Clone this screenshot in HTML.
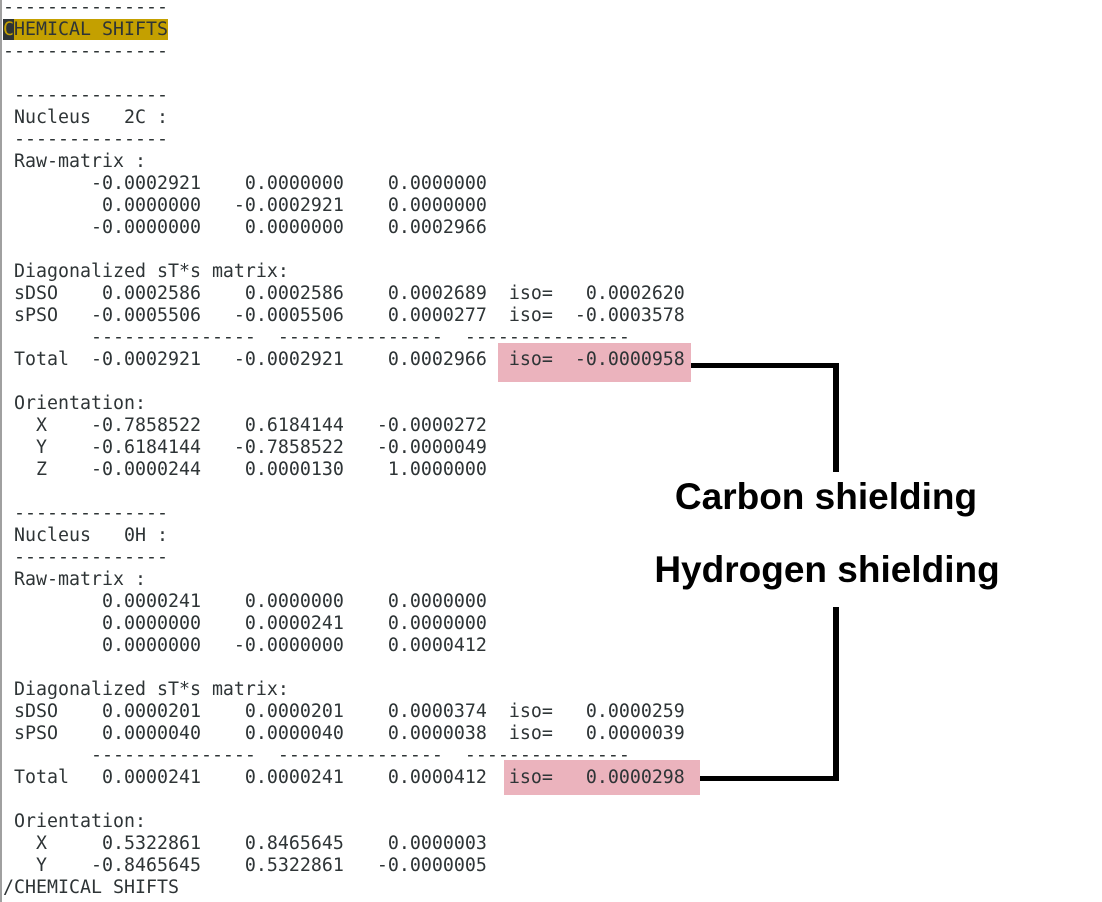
<!DOCTYPE html>
<html><head><meta charset="utf-8"><style>
html,body{margin:0;padding:0;background:#fff;width:1102px;height:902px;overflow:hidden;position:relative}
.bar{position:absolute;left:0;top:0;width:2px;height:902px;background:#a0a0a0}
pre{position:absolute;left:3px;top:-3px;margin:0;font-family:"DejaVu Sans Mono","Liberation Mono",monospace;font-size:18.27px;line-height:22px;color:#2e3436}
.hl{background:#c4a000}
.cur{background:#2e3436;color:#c4a000}
.pk{position:absolute;background:#ebb3bd}
.ln{position:absolute;background:#000}
.lab{position:absolute;font-family:"Liberation Sans",Arial,sans-serif;font-weight:bold;font-size:37px;line-height:42px;color:#000;text-align:center;width:500px}
</style></head><body>
<div class="bar"></div>
<div class="pk" style="left:498px;top:343px;width:193px;height:39px"></div>
<div class="pk" style="left:504px;top:760px;width:196px;height:35px"></div>
<pre>---------------
<span class="hl"><span class="cur">C</span>HEMICAL SHIFTS</span>
---------------

 --------------
 Nucleus   2C :
 --------------
 Raw-matrix :
        -0.0002921    0.0000000    0.0000000
         0.0000000   -0.0002921    0.0000000
        -0.0000000    0.0000000    0.0002966

 Diagonalized sT*s matrix:
 sDSO    0.0002586    0.0002586    0.0002689  iso=   0.0002620
 sPSO   -0.0005506   -0.0005506    0.0000277  iso=  -0.0003578
        ---------------  ---------------  ---------------
 Total  -0.0002921   -0.0002921    0.0002966  iso=  -0.0000958

 Orientation:
   X    -0.7858522    0.6184144   -0.0000272
   Y    -0.6184144   -0.7858522   -0.0000049
   Z    -0.0000244    0.0000130    1.0000000

 --------------
 Nucleus   0H :
 --------------
 Raw-matrix :
         0.0000241    0.0000000    0.0000000
         0.0000000    0.0000241    0.0000000
         0.0000000   -0.0000000    0.0000412

 Diagonalized sT*s matrix:
 sDSO    0.0000201    0.0000201    0.0000374  iso=   0.0000259
 sPSO    0.0000040    0.0000040    0.0000038  iso=   0.0000039
        ---------------  ---------------  ---------------
 Total   0.0000241    0.0000241    0.0000412  iso=   0.0000298

 Orientation:
   X     0.5322861    0.8465645    0.0000003
   Y    -0.8465645    0.5322861   -0.0000005
/CHEMICAL SHIFTS</pre>
<div class="ln" style="left:691px;top:363px;width:148px;height:5px"></div>
<div class="ln" style="left:833px;top:363px;width:6px;height:109px"></div>
<div class="ln" style="left:700px;top:776px;width:139px;height:5px"></div>
<div class="ln" style="left:833px;top:607px;width:6px;height:174px"></div>
<div class="lab" style="left:576px;top:476px">Carbon shielding</div>
<div class="lab" style="left:577px;top:549px">Hydrogen shielding</div>
</body></html>
